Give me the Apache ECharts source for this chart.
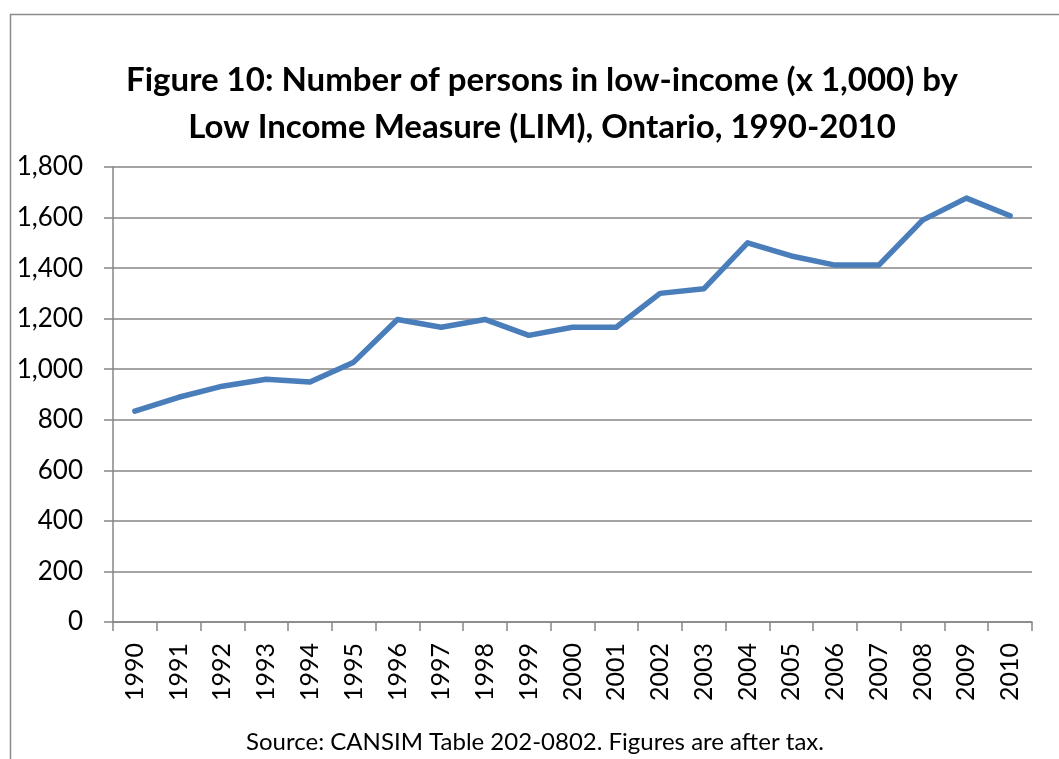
<!DOCTYPE html>
<html>
<head>
<meta charset="utf-8">
<script src="https://cdn.jsdelivr.net/npm/echarts@6/dist/echarts.min.js"></script>
<style>
html, body { margin: 0; padding: 0; background: #fff; }
#chart { width: 1059px; height: 759px; }
</style>
</head>
<body>
<div id="chart"></div>
<script>
// 年とLIM低所得者数（千人）
var years = ['1990','1991','1992','1993','1994','1995','1996','1997','1998','1999','2000',
	'2001','2002','2003','2004','2005','2006','2007','2008','2009','2010'];
var persons = [834, 889, 933, 960, 949, 1028, 1197, 1166, 1197, 1134, 1166,
	1166, 1300, 1318, 1500, 1448, 1412, 1412, 1590, 1677, 1607];
var yTicks = [0, 200, 400, 600, 800, 1000, 1200, 1400, 1600, 1800];

var titleText = 'Figure 10: Number of persons in low-income (x 1,000) by\nLow Income Measure (LIM), Ontario, 1990-2010';
var sourceText = 'Source: CANSIM Table 202-0802. Figures are after tax.';

var font = 'Lato, "Noto Sans", sans-serif';
var myChart = echarts.init(document.getElementById('chart'));

var option = {
	animation: false,
	backgroundColor: '#fff',
	graphic: [{
		type: 'rect',
		left: 8, top: 12,
		shape: { width: 1100, height: 800 },
		style: { fill: 'none', stroke: '#8c8c8c', lineWidth: 1.5 },
		z: -1
	}],
	title: [{
		text: titleText,
		left: 537,
		textAlign: 'center',
		top: 52,
		textStyle: {
			fontFamily: font,
			fontSize: 33,
			fontWeight: 'bold',
			color: '#000',
			lineHeight: 47
		}
	}, {
		text: sourceText,
		left: 530,
		textAlign: 'center',
		top: 725,
		textStyle: {
			fontFamily: font,
			fontSize: 24,
			fontWeight: 'normal',
			color: '#000'
		}
	}],
	grid: {
		left: 113,
		right: 27,
		top: 167,
		bottom: 137,
		containLabel: false
	},
	xAxis: {
		type: 'category',
		data: years,
		boundaryGap: true,
		axisLine: { lineStyle: { color: '#868686', width: 1.5 } },
		axisTick: { show: true, length: 9, interval: 0, lineStyle: { color: '#868686', width: 1.5 } },
		axisLabel: {
			rotate: 90,
			interval: 0,
			margin: 21,
			fontFamily: font,
			fontSize: 25,
			color: '#000'
		},
		splitLine: { show: false }
	},
	yAxis: {
		type: 'value',
		min: 0,
		max: 1800,
		interval: 200,
		axisLine: { show: true, lineStyle: { color: '#868686', width: 1.5 } },
		axisTick: { show: true, length: 9, lineStyle: { color: '#868686', width: 1.5 } },
		axisLabel: {
			margin: 30,
			fontFamily: font,
			fontSize: 26,
			color: '#000',
			formatter: function (v) {
				return yTicks.indexOf(v) != -1 ? v.toLocaleString('en-US') : '';
			}
		},
		splitLine: { show: true, lineStyle: { color: '#868686', width: 1.5 } }
	},
	series: [{
		name: 'LIM',
		type: 'line',
		data: persons,
		showSymbol: false,
		smooth: false,
		lineStyle: { color: '#4a7ebb', width: 5.5, cap: 'round', join: 'round' },
		itemStyle: { color: '#4a7ebb' }
	}]
};

myChart.setOption(option);
</script>
</body>
</html>
